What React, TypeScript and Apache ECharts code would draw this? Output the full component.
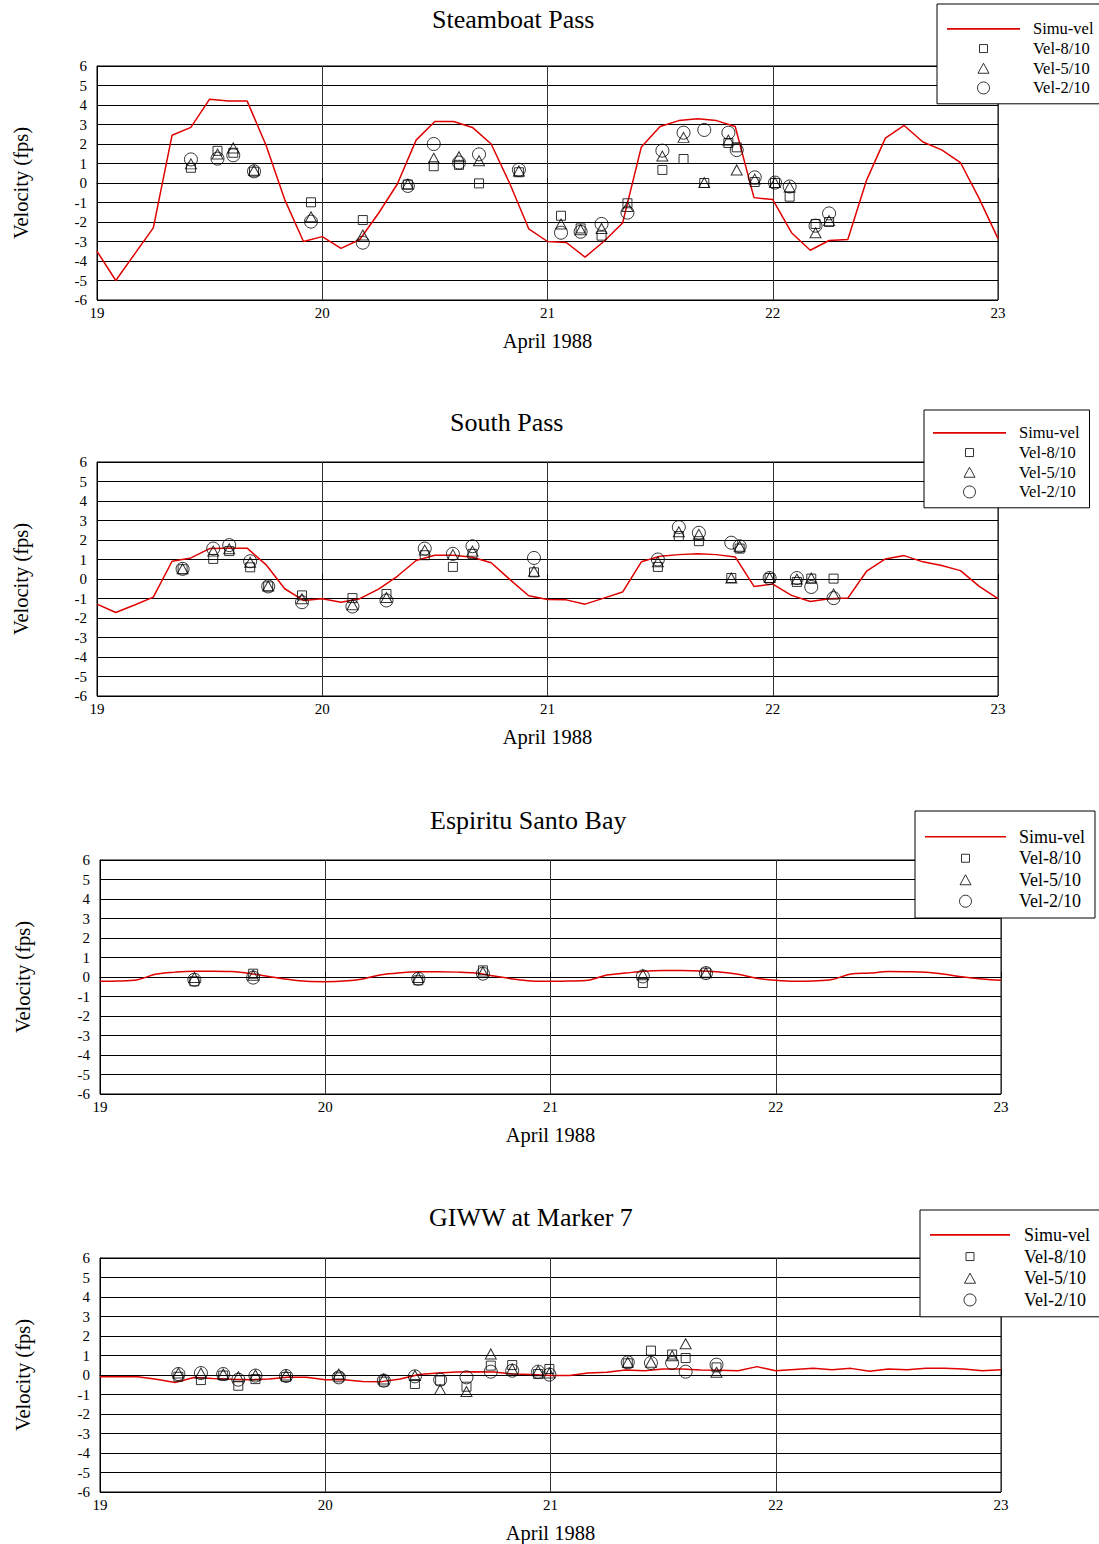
import React, { useEffect, useRef } from "react";
import * as echarts from "echarts";

const FONT = "'Liberation Serif', 'Times New Roman', serif";

// Simulated series: one value every 2 hours from April 19 00:00 to April 23 00:00
const SIM_START_DAY = 19;
const SIM_STEP_HOURS = 2;

const titles = ["Steamboat Pass", "South Pass", "Espiritu Santo Bay", "GIWW at Marker 7"];
const seriesNames = ["Simu-vel", "Vel-8/10", "Vel-5/10", "Vel-2/10"];
const xAxisTitle = "April 1988";
const yAxisTitle = "Velocity (fps)";

// ---- Steamboat Pass ----
const sim1 = [-3.5, -5.0, -3.65, -2.3, 2.45, 2.85, 4.3, 4.2, 4.2, 1.95, -0.85, -3.0, -2.75, -3.35, -2.9, -1.55, -0.05, 2.2, 3.15, 3.15, 2.85, 2.0, -0.05, -2.35, -3.0, -3.05, -3.8, -3.0, -2.05, 1.85, 2.9, 3.2, 3.3, 3.2, 2.9, -0.75, -0.85, -2.55, -3.45, -2.95, -2.9, 0.15, 2.3, 2.95, 2.1, 1.7, 1.05, -0.8, -2.85];
const obsT1 = [19.417, 19.535, 19.605, 19.697, 19.95, 20.18, 20.38, 20.495, 20.607, 20.696, 20.873, 21.06, 21.147, 21.24, 21.355, 21.51, 21.604, 21.696, 21.803, 21.84, 21.92, 22.01, 22.075, 22.19, 22.25];
const vel8_1 = [0.78, 1.65, 1.55, 0.58, -0.99, -1.9, -0.08, 0.86, 0.93, -0.02, 0.55, -1.68, -2.33, -2.7, -1.04, 0.67, 1.23, 0.0, 2.05, 1.83, 0.05, 0.0, -0.7, -2.1, -2.0];
const vel5_1 = [0.98, 1.49, 1.8, 0.65, -1.73, -2.67, -0.05, 1.27, 1.35, 1.14, 0.62, -2.1, -2.4, -2.33, -1.21, 1.38, 2.34, 0.02, 2.2, 0.67, 0.2, 0.02, -0.2, -2.55, -1.93];
const vel2_1 = [1.21, 1.25, 1.42, 0.6, -1.98, -3.06, -0.15, 2.0, 1.05, 1.47, 0.68, -2.55, -2.5, -2.1, -1.52, 1.66, 2.58, 2.72, 2.58, 1.69, 0.29, 0.02, -0.18, -2.19, -1.56];

// ---- South Pass ----
const sim2 = [-1.29, -1.72, -1.33, -0.93, 0.91, 1.08, 1.56, 1.58, 1.58, 0.74, -0.5, -1.1, -1.01, -1.19, -1.01, -0.52, 0.14, 0.95, 1.22, 1.22, 1.12, 0.83, -0.03, -0.86, -1.05, -1.07, -1.29, -0.98, -0.67, 0.88, 1.17, 1.25, 1.29, 1.25, 1.13, -0.38, -0.26, -0.84, -1.15, -1.01, -0.98, 0.4, 1.03, 1.2, 0.88, 0.69, 0.43, -0.38, -1.01];
const obsT2 = [19.38, 19.516, 19.587, 19.68, 19.76, 19.91, 20.134, 20.285, 20.455, 20.58, 20.667, 20.94, 21.49, 21.583, 21.672, 21.816, 21.853, 21.986, 22.107, 22.171, 22.27];
const vel8_2 = [0.5, 1.03, 1.43, 0.6, -0.38, -0.84, -0.98, -0.77, 1.22, 0.62, 1.29, 0.34, 0.62, 2.2, 1.94, 0.05, 1.56, 0.05, -0.15, 0.02, 0.02];
const vel5_2 = [0.52, 1.43, 1.55, 0.86, -0.36, -1.01, -1.32, -0.95, 1.48, 1.25, 1.43, 0.4, 0.88, 2.42, 2.29, 0.05, 1.68, 0.07, 0.0, 0.05, -0.77];
const vel2_2 = [0.52, 1.56, 1.74, 0.91, -0.38, -1.19, -1.41, -1.1, 1.56, 1.29, 1.68, 1.08, 1.0, 2.66, 2.37, 1.86, 1.68, 0.05, 0.05, -0.41, -0.98];

// ---- Espiritu Santo Bay ----
const sim3 = [-0.22, -0.21, -0.14, 0.15, 0.25, 0.3, 0.3, 0.28, 0.18, 0.02, -0.12, -0.22, -0.24, -0.21, -0.1, 0.12, 0.22, 0.27, 0.27, 0.25, 0.2, 0.05, -0.1, -0.2, -0.22, -0.21, -0.17, 0.1, 0.2, 0.3, 0.33, 0.33, 0.31, 0.26, 0.14, -0.06, -0.17, -0.22, -0.2, -0.13, 0.15, 0.2, 0.28, 0.27, 0.24, 0.14, 0.0, -0.1, -0.17];
const obsT3 = [19.419, 19.68, 20.413, 20.7, 21.41, 21.69];
const vel8_3 = [-0.22, 0.17, -0.17, 0.34, -0.31, 0.22];
const vel5_3 = [-0.03, 0.09, -0.03, 0.26, 0.12, 0.22];
const vel2_3 = [-0.14, -0.03, -0.09, 0.17, 0.03, 0.2];

// ---- GIWW at Marker 7 ----
const sim4 = [-0.09, -0.09, -0.09, -0.22, -0.38, -0.13, -0.18, -0.22, -0.24, -0.21, -0.12, -0.12, -0.24, -0.24, -0.33, -0.34, -0.2, 0.03, 0.1, 0.16, 0.17, 0.16, 0.05, 0.02, -0.03, -0.03, 0.1, 0.14, 0.26, 0.22, 0.31, 0.31, 0.26, 0.24, 0.22, 0.43, 0.22, 0.28, 0.34, 0.27, 0.34, 0.19, 0.31, 0.27, 0.34, 0.34, 0.31, 0.22, 0.27];
const obsT4 = [19.348, 19.448, 19.547, 19.614, 19.69, 19.826, 20.06, 20.26, 20.398, 20.51, 20.627, 20.735, 20.83, 20.945, 20.995, 21.343, 21.446, 21.54, 21.6, 21.737];
const vel8_4 = [-0.09, -0.26, -0.03, -0.55, -0.21, -0.1, -0.12, -0.34, -0.46, -0.28, -0.6, 0.48, 0.51, 0.05, 0.31, 0.6, 1.25, 1.05, 0.87, 0.39];
const vel5_4 = [0.1, 0.1, 0.05, -0.09, 0.0, 0.0, 0.05, -0.2, -0.03, -0.75, -0.85, 1.08, 0.31, 0.22, 0.1, 0.65, 0.65, 0.99, 1.6, 0.14];
const vel2_4 = [0.05, 0.1, 0.05, -0.24, -0.03, -0.05, -0.12, -0.29, -0.07, -0.24, -0.12, 0.17, 0.22, 0.17, 0.02, 0.65, 0.62, 0.62, 0.17, 0.53];

const xMin = 19, xMax = 23, xStep = 1;
const yMin = -6, yMax = 6, yStep = 1;

const panelData = [
  { sim: sim1, t: obsT1, v8: vel8_1, v5: vel5_1, v2: vel2_1, smooth: false },
  { sim: sim2, t: obsT2, v8: vel8_2, v5: vel5_2, v2: vel2_2, smooth: false },
  { sim: sim3, t: obsT3, v8: vel8_3, v5: vel5_3, v2: vel2_3, smooth: 0.35 },
  { sim: sim4, t: obsT4, v8: vel8_4, v5: vel5_4, v2: vel2_4, smooth: false },
];

// layout (pixels)
const layout = [
  { gl: 97, gt: 66, titleLeft: 432, titleTop: 6, nameGap: 66,
    lg: { left: 937, top: 4, padding: [15, 30, 6, 10], itemWidth: 73, fontSize: 16.5, lineHeight: 19.7, textPad: 8 } },
  { gl: 97, gt: 462, titleLeft: 450, titleTop: 409, nameGap: 66,
    lg: { left: 924, top: 410, padding: [13, 10, 6, 9], itemWidth: 73, fontSize: 16.5, lineHeight: 19.7, textPad: 8 } },
  { gl: 100, gt: 860, titleLeft: 430, titleTop: 807, nameGap: 67,
    lg: { left: 915, top: 811, padding: [15, 10, 6, 10], itemWidth: 81, fontSize: 18, lineHeight: 21.5, textPad: 8 } },
  { gl: 100, gt: 1258, titleLeft: 429, titleTop: 1204, nameGap: 67,
    lg: { left: 920, top: 1210, padding: [14, 30, 6, 10], itemWidth: 80, fontSize: 18, lineHeight: 21.7, textPad: 9 } },
];

// legend icons (kept in aspect and centred in the icon box)
const squareIcon = "path://M0,0M12,12M2,2H10V10H2Z";
const triangleIcon = "path://M0,0M12,12M0.5,11L6,1L11.5,11Z";

function buildOption() {
  const grid: any[] = [];
  const xAxis: any[] = [];
  const yAxis: any[] = [];
  const title: any[] = [];
  const legend: any[] = [];
  const series: any[] = [];

  panelData.forEach((p, i) => {
    const L = layout[i];
    grid.push({
      left: L.gl, top: L.gt, width: 901, height: 234,
      show: true, borderColor: "#000", borderWidth: 1, backgroundColor: "transparent",
    });
    title.push({
      text: titles[i], left: L.titleLeft, top: L.titleTop, padding: 0,
      textStyle: { fontFamily: FONT, fontSize: 26, fontWeight: "normal", color: "#000" },
    });
    xAxis.push({
      type: "value", gridIndex: i, min: xMin, max: xMax, interval: xStep,
      name: xAxisTitle, nameLocation: "middle", nameGap: 30,
      nameTextStyle: { fontFamily: FONT, fontSize: 20.5, color: "#000" },
      axisLine: { show: true, lineStyle: { color: "#000", width: 1 } },
      axisTick: { show: true, inside: true, length: 5, lineStyle: { color: "#000" } },
      axisLabel: { color: "#000", fontFamily: FONT, fontSize: 15, margin: 5 },
      splitLine: { show: true, lineStyle: { color: "#333", width: 1 } },
    });
    yAxis.push({
      type: "value", gridIndex: i, min: yMin, max: yMax, interval: yStep,
      name: yAxisTitle, nameLocation: "middle", nameGap: L.nameGap, nameRotate: 90,
      nameTextStyle: { fontFamily: FONT, fontSize: 20.5, color: "#000" },
      axisLine: { show: true, lineStyle: { color: "#000", width: 1 } },
      axisTick: { show: true, inside: true, length: 5, lineStyle: { color: "#000" } },
      axisLabel: { color: "#000", fontFamily: FONT, fontSize: 15, margin: 10 },
      splitLine: { show: true, lineStyle: { color: "#000", width: 1 } },
    });
    legend.push({
      orient: "vertical", left: L.lg.left, top: L.lg.top, padding: L.lg.padding,
      itemWidth: L.lg.itemWidth, itemHeight: 12, itemGap: 0,
      backgroundColor: "#fff", borderColor: "#000", borderWidth: 1, borderRadius: 0,
      selectedMode: false,
      itemStyle: { borderWidth: 1 },
      textStyle: {
        fontFamily: FONT, fontSize: L.lg.fontSize, color: "#000",
        lineHeight: L.lg.lineHeight, padding: [0, 0, 0, L.lg.textPad],
      },
      data: [
        { name: seriesNames[0], icon: `path://M0,0H${L.lg.itemWidth}V1.6H0Z`, itemStyle: { color: "#e00000", borderWidth: 0 } },
        { name: seriesNames[1], icon: squareIcon },
        { name: seriesNames[2], icon: triangleIcon },
        { name: seriesNames[3], icon: "circle" },
      ],
      z: 10,
    });

    series.push({
      name: seriesNames[0], type: "line", xAxisIndex: i, yAxisIndex: i,
      data: p.sim.map((v, k) => [SIM_START_DAY + (k * SIM_STEP_HOURS) / 24, v]),
      symbol: "none", showSymbol: false, smooth: p.smooth,
      lineStyle: { color: "#e00000", width: 1.5 }, itemStyle: { color: "#e00000" },
      z: 2,
    });
    const mk = (name: string, vals: number[], symbol: string, size: any) => ({
      name, type: "scatter", xAxisIndex: i, yAxisIndex: i,
      data: p.t.map((t, k) => [t, vals[k]]),
      symbol, symbolSize: size,
      itemStyle: { color: "transparent", borderColor: "#000", borderWidth: 1 },
      z: 3,
    });
    series.push(mk(seriesNames[1], p.v8, "rect", 9));
    series.push(mk(seriesNames[2], p.v5, "triangle", [11, 10]));
    series.push(mk(seriesNames[3], p.v2, "circle", 13));
  });

  return {
    animation: false,
    backgroundColor: "#fff",
    textStyle: { fontFamily: FONT },
    title, grid, xAxis, yAxis, legend, series,
  };
}

export default function App() {
  const ref = useRef<HTMLDivElement>(null);
  useEffect(() => {
    if (!ref.current) return;
    const chart = echarts.init(ref.current, undefined, { renderer: "svg" });
    chart.setOption(buildOption() as any);
    return () => chart.dispose();
  }, []);
  return (
    <div
      ref={ref}
      style={{ position: "absolute", left: 0, top: 0, width: 1099, height: 1544, background: "#fff" }}
    />
  );
}
